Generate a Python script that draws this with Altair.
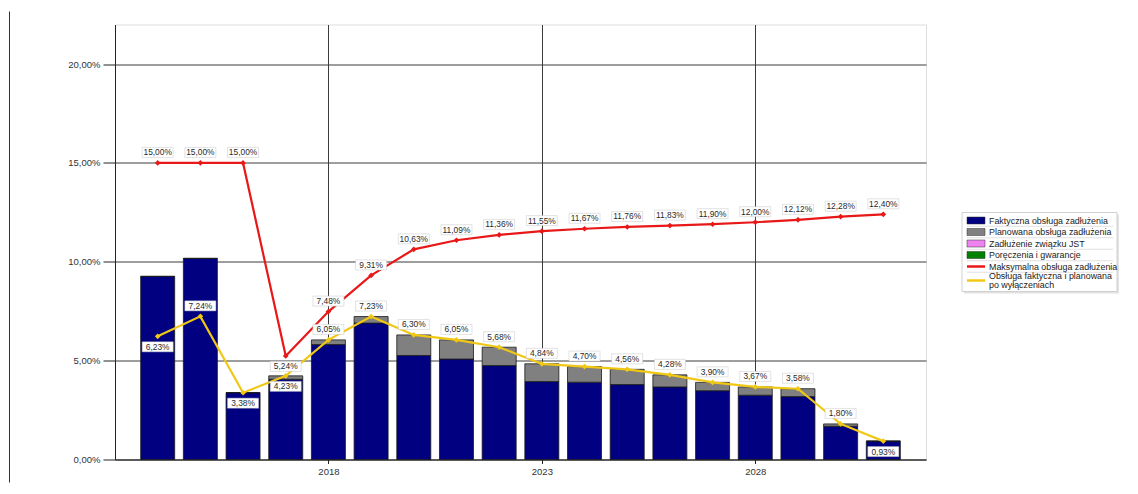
import altair as alt
import pandas as pd

# ---------------- data ----------------
years = list(range(2014, 2032))
faktyczna = [9.26, 10.17, 3.38, 4.06, 5.81, 6.90, 5.26, 5.08, 4.75, 3.94,
             3.91, 3.79, 3.67, 3.48, 3.25, 3.18, 1.68, 0.93]
planowana = [0.00, 0.00, 0.00, 0.17, 0.24, 0.33, 1.04, 0.97, 0.93, 0.90,
             0.79, 0.77, 0.61, 0.42, 0.42, 0.40, 0.12, 0.00]
maksymalna = [15.00, 15.00, 15.00, 5.24, 7.48, 9.31, 10.63, 11.09, 11.36, 11.55,
              11.67, 11.76, 11.83, 11.90, 12.00, 12.12, 12.28, 12.40]
po_wylaczeniach = [6.23, 7.24, 3.38, 4.23, 6.05, 7.23, 6.30, 6.05, 5.68, 4.84,
                   4.70, 4.56, 4.28, 3.90, 3.67, 3.58, 1.80, 0.93]
maks_label_side = ["above", "above", "above", "below"] + ["above"] * 14
wyl_label_side = ["below", "above", "below", "below"] + ["above"] * 13 + ["below"]

bar_series = ["Faktyczna obsługa zadłużenia", "Planowana obsługa zadłużenia"]
legend_names = ["Faktyczna obsługa zadłużenia", "Planowana obsługa zadłużenia",
                "Zadłużenie związku JST", "Poręczenia i gwarancje",
                "Maksymalna obsługa zadłużenia",
                "Obsługa faktyczna i planowana\npo wyłączeniach"]
legend_kinds = ["box", "box", "box", "box", "line", "line"]
legend_colors = ["#000080", "#808080", "#ee82ee", "#008000", "#e81818", "#f0c814"]

RED = "#e81818"
YELLOW = "#f0c814"
FONT = "Liberation Sans"

# ---------------- tables ----------------
bars_df = pd.DataFrame(
    [{"year": y, "series": bar_series[0], "value": f, "ord": 0} for y, f in zip(years, faktyczna)]
    + [{"year": y, "series": bar_series[1], "value": p, "ord": 1} for y, p in zip(years, planowana)]
)
max_df = pd.DataFrame({"year": years, "value": maksymalna, "side": maks_label_side})
wyl_df = pd.DataFrame({"year": years, "value": po_wylaczeniach, "side": wyl_label_side})
labels_df = pd.concat([max_df, wyl_df], ignore_index=True)

xscale = alt.Scale(domain=[2013, 2032], nice=False, zero=False, padding=0)
yscale = alt.Scale(domain=[0, 22], nice=False, padding=0)
xaxis = alt.Axis(values=[2018, 2023, 2028], format="d", title=None,
                 grid=True, gridColor="#3c3c3c", gridWidth=1,
                 tickSize=4, tickColor="#222", domainColor="#222",
                 labelColor="#333", labelFontSize=9.5, labelFont=FONT,
                 labelPadding=3)
yaxis = alt.Axis(values=[0, 5, 10, 15, 20], title=None,
                 labelExpr="replace(format(datum.value, '.2f'), '.', ',') + '%'",
                 grid=True, gridColor="#3c3c3c", gridWidth=1,
                 tickSize=12, tickColor="#222", domainColor="#222",
                 labelColor="#333", labelFontSize=9.5, labelFont=FONT,
                 labelPadding=3)
X = alt.X("year:Q", scale=xscale, axis=xaxis)
Y = alt.Y("value:Q", scale=yscale, axis=yaxis)

bars = alt.Chart(bars_df).mark_bar(width=34, stroke="#1a1a1a", strokeWidth=0.8).encode(
    x=X,
    y=alt.Y("value:Q", scale=yscale, stack="zero", axis=yaxis),
    color=alt.Color("series:N", scale=alt.Scale(domain=bar_series, range=["#000080", "#808080"]),
                    legend=None),
    order=alt.Order("ord:Q"),
)


def line_layer(df, color):
    base = alt.Chart(df).encode(x=X, y=Y)
    return base.mark_line(color=color, strokeWidth=2.2) + \
        base.mark_point(shape="diamond", filled=True, size=32, color=color, opacity=1)


lab_base = alt.Chart(labels_df).transform_calculate(
    label="replace(format(datum.value, '.2f'), '.', ',') + '%'"
)
label_layers = []
for side, dy in (("above", -10.5), ("below", 10.5)):
    f = lab_base.transform_filter(alt.datum.side == side)
    label_layers.append(
        f.mark_rect(fill="white", stroke="#c4c4c4", strokeWidth=0.5,
                    xOffset=-15.5, x2Offset=15.5, yOffset=dy - 5, y2Offset=dy + 5).encode(
            x=X, x2="year:Q", y=Y, y2="value:Q")
    )
    label_layers.append(
        f.mark_text(dy=dy, fontSize=8.4, font=FONT, color="#2a2a2a", baseline="middle").encode(
            x=X, y=Y, text="label:N")
    )

one = pd.DataFrame({"a": [0]})

# frame line at the left
frame = alt.Chart(one).mark_rule(color="#333", strokeWidth=1).encode(
    x=alt.value(-105.5), y=alt.value(-13), y2=alt.value(458))

# ---------------- legend (drawn beside the plot) ----------------
LX0, LX1, LY0, LY1 = 847, 1002, 188, 267
legend_layers = [
    alt.Chart(one).mark_rect(fill="#e2e2e2").encode(
        x=alt.value(LX0 + 2), x2=alt.value(LX1 + 2), y=alt.value(LY0 + 2), y2=alt.value(LY1 + 2)),
    alt.Chart(one).mark_rect(fill="white", stroke="#d0d0d0", strokeWidth=1).encode(
        x=alt.value(LX0), x2=alt.value(LX1), y=alt.value(LY0), y2=alt.value(LY1)),
]
for i, (name, kind, col) in enumerate(zip(legend_names, legend_kinds, legend_colors)):
    cy = 196 + 11.5 * i if i < 5 else 256
    if kind == "box":
        legend_layers.append(alt.Chart(one).mark_rect(fill=col, stroke="#333", strokeWidth=0.5).encode(
            x=alt.value(852), x2=alt.value(870), y=alt.value(cy - 3.5), y2=alt.value(cy + 3.5)))
    else:
        legend_layers.append(alt.Chart(one).mark_rule(color=col, strokeWidth=2.5).encode(
            x=alt.value(852), x2=alt.value(870), y=alt.value(cy)))
    if i < 5:
        legend_layers.append(alt.Chart(one).mark_rule(color="#e0e0e0", strokeWidth=1).encode(
            x=alt.value(852), x2=alt.value(998), y=alt.value(cy + 5.75)))
    legend_layers.append(alt.Chart(one).mark_text(
        align="left", baseline="middle", fontSize=8.9, font=FONT, color="#222",
        lineBreak="\n", lineHeight=9.4, dy=(-4.7 if "\n" in name else 0)).encode(
        x=alt.value(874), y=alt.value(cy), text=alt.value(name)))

chart = alt.layer(
    bars,
    line_layer(max_df, RED),
    line_layer(wyl_df, YELLOW),
    *label_layers,
    frame,
    *legend_layers,
).properties(
    width=811, height=435,
    padding={"left": 1, "top": 2.5, "right": 5, "bottom": 0},
).configure_view(fill="#f3f3f3", stroke=None).configure(background="white")

chart.save("out.html", embed_options={"renderer": "svg", "actions": False})
